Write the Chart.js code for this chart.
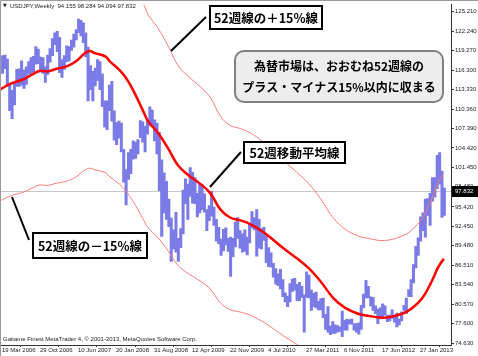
<!DOCTYPE html>
<html><head><meta charset="utf-8">
<script src="https://cdn.jsdelivr.net/npm/chart.js@4.4.0/dist/chart.umd.min.js"></script>
<style>html,body{margin:0;padding:0;background:#fff;}canvas{display:block;}</style>
</head><body>
<canvas id="c" width="478" height="356"></canvas>
<script>
// ---- data ----
const symbolTitle = 'USDJPY,Weekly';
const lastBar = [94.155, 98.284, 94.094, 97.832]; // O H L C of the last weekly bar
const footerText = 'Gaitame Finest MetaTrader 4, \u00a9 2001-2013, MetaQuotes Software Corp.';

// x axis: week index of each date label
const xTickWeeks = [0, 32, 64, 96, 128, 160, 192, 224, 256, 288, 320, 352];
const xTickLabels = ['19 Mar 2006','29 Oct 2006','10 Jun 2007','20 Jan 2008','31 Aug 2008','12 Apr 2009',
  '22 Nov 2009','4 Jul 2010','27 Mar 2011','6 Nov 2011','17 Jun 2012','27 Jan 2013'];
// y axis tick labels (price)
const yTickValues = [74.63, 77.60, 80.57, 83.54, 86.51, 89.48, 92.45, 95.42, 98.48, 101.45,
  104.42, 107.39, 110.36, 113.33, 116.30, 119.27, 122.24, 125.21];

// price range per two-week block (weeks 0-1, 2-3, ...): low / high
const barLow = [115.8,116.5,113.8,110.1,108.9,111.0,113.8,113.8,114.0,113.5,114.1,115.7,115.5,116.0,117.2,117.3,116.0,115.8,114.4,115.6,
  117.5,118.5,120.2,119.1,115.9,115.2,116.4,117.6,117.7,119.3,119.8,120.9,122.0,121.5,120.5,118.3,111.6,113.3,111.6,113.9,
  114.7,113.3,110.7,107.6,107.2,110.1,108.5,105.6,104.9,105.9,103.8,99.2,95.7,99.6,100.5,102.7,102.8,103.5,106.0,105.3,
  103.8,106.5,107.8,107.7,105.5,103.5,97.9,90.9,94.5,93.5,92.4,87.1,89.0,88.5,87.1,89.2,91.3,95.9,93.5,97.0,
  96.0,95.9,93.9,94.5,95.0,94.6,91.8,93.3,94.0,92.6,90.2,89.8,88.0,88.7,89.6,88.6,84.8,87.8,89.3,90.6,
  89.1,88.5,88.6,88.1,89.9,92.2,91.9,87.9,89.1,89.0,90.3,86.9,86.3,86.2,84.7,83.6,83.4,82.9,81.7,80.9,
  80.2,80.9,82.5,82.7,81.1,81.1,81.6,76.3,81.6,81.5,79.6,80.2,80.0,79.7,79.7,78.5,76.7,76.3,75.9,76.1,
  76.1,76.3,76.4,75.6,76.6,76.6,77.5,77.5,76.6,76.3,76.0,76.7,80.0,81.5,81.5,80.3,79.6,79.1,77.6,78.3,
  78.6,78.9,77.9,78.0,78.4,77.8,77.1,77.4,78.0,79.6,79.1,81.7,81.7,83.8,86.1,88.0,90.2,91.8,90.8,94.1,
  92.6,96.3,96.9,98.2,98.9,93.8,94.1];
const barHigh = [118.5,118.6,118.0,114.3,113.2,114.3,116.4,116.5,117.7,116.3,116.8,117.6,118.2,118.4,119.9,119.5,118.3,118.2,116.8,118.6,
  119.6,121.1,122.0,122.2,121.3,117.9,118.5,120.0,119.9,120.9,121.8,122.5,124.1,123.9,123.5,122.0,119.8,117.0,116.1,116.6,
  117.9,117.6,115.7,111.6,111.6,114.0,114.6,110.1,108.3,108.5,108.2,104.2,101.1,103.7,104.2,105.5,105.3,105.7,108.6,108.4,
  107.7,108.6,110.7,110.2,108.7,108.2,106.8,102.6,100.6,99.3,96.6,93.7,91.9,94.6,90.6,92.1,98.0,99.7,98.9,101.4,
  100.7,99.9,97.5,98.9,98.9,97.4,95.0,95.6,97.8,95.4,93.5,92.3,90.5,92.0,92.2,90.6,90.8,90.6,93.1,93.8,
  91.8,91.3,91.9,90.8,92.8,94.7,93.8,95.0,93.5,92.1,92.3,91.3,89.2,88.4,86.8,86.0,85.2,85.9,84.3,82.3,
  81.8,83.7,84.4,84.5,83.6,83.9,83.3,82.0,85.5,85.0,82.7,82.2,82.4,81.0,81.4,81.5,79.0,80.2,77.2,77.9,
  77.4,77.3,77.1,79.5,78.1,78.3,78.2,78.3,77.6,77.6,77.7,80.4,82.1,84.2,83.3,81.7,81.6,80.3,79.8,80.0,
  80.6,80.3,78.9,78.9,79.7,78.8,79.2,78.3,79.4,80.4,81.5,82.8,84.3,86.6,89.4,90.7,93.9,94.5,96.6,96.7,
  97.5,99.9,99.9,103.3,103.7,100.9,98.3];

// 52-week moving average and its +15% / -15% envelopes (read at these week indices)
const maWeeks = [-2,7,18,26,32,38,46,55,62,70,74,78,87,91,99,104,110,119,123,131,140,148,156,165,175,184,192,200,209,219,
  227,237,248,258,268,279,289,300,308,322,337,345,354,362,367,372];
const maValues = [113.3,114.2,114.9,115.7,116.2,116.1,116.5,116.9,117.6,118.9,119.2,118.9,118.4,117.6,116.3,115.2,113.4,110.0,108.5,106.8,
  104.3,101.8,100.4,99.2,97.6,95.0,93.8,93.4,92.8,91.7,90.6,89.1,87.6,86.1,84.1,81.5,80.0,79.1,78.8,78.5,79.1,79.9,81.5,84.1,86.1,87.5];
const upperValues = [130.30,131.33,132.14,133.06,133.63,133.52,133.98,134.44,135.24,136.74,137.08,136.74,136.16,135.24,133.75,132.48,130.41,126.50,124.78,122.82,
  119.95,117.07,115.46,114.08,112.24,109.25,107.87,107.41,106.72,105.46,104.19,102.47,100.74,99.02,96.72,93.73,92.00,90.97,90.62,90.28,90.97,91.89,93.73,96.72,99.02,100.63];
const lowerValues = [96.31,97.07,97.67,98.35,98.77,98.69,99.03,99.37,99.96,101.07,101.32,101.07,100.64,99.96,98.86,97.92,96.39,93.50,92.23,90.78,
  88.66,86.53,85.34,84.32,82.96,80.75,79.73,79.39,78.88,77.95,77.01,75.74,74.46,73.19,71.49,69.28,68.00,67.24,66.98,66.73,67.24,67.92,69.28,71.49,73.19,74.38];

const noteUpper = '52週線の＋15%線';
const noteMA = '52週移動平均線';
const noteLower = '52週線の－15%線';
const noteMain = ['為替市場は、おおむね52週線の', 'プラス・マイナス15%以内に収まる'];

// ---- build datasets ----
const bars = barLow.map((lo, k) => ({ x: 2 * k + 0.5, y: [lo, barHigh[k]] }));
const pts = vals => maWeeks.map((w, k) => ({ x: w, y: vals[k] }));

const decor = {
  id: 'decor',
  beforeDatasetsDraw(chart) {
    const { ctx, chartArea: a, scales: { y } } = chart;
    const py = Math.round(y.getPixelForValue(lastBar[3])) + 0.5;
    ctx.save();
    ctx.strokeStyle = '#c8c8c8';
    ctx.lineWidth = 1;
    ctx.beginPath(); ctx.moveTo(a.left, py); ctx.lineTo(a.right, py); ctx.stroke();
    ctx.restore();
  },
  afterDraw(chart) {
    const { ctx, chartArea: a, scales: { y } } = chart;
    ctx.save();
    // frame
    ctx.strokeStyle = '#9a9a9a'; ctx.lineWidth = 1;
    ctx.beginPath(); ctx.moveTo(0.5, 356); ctx.lineTo(0.5, 0.5); ctx.lineTo(478, 0.5); ctx.stroke();
    // current price label
    const py = Math.round(y.getPixelForValue(lastBar[3]));
    ctx.fillStyle = '#000';
    ctx.fillRect(a.right + 1, py - 5, 26, 11);
    ctx.fillStyle = '#fff';
    ctx.font = '6px "Liberation Sans"';
    ctx.textBaseline = 'middle'; ctx.textAlign = 'left';
    ctx.fillText(lastBar[3].toFixed(3), a.right + 4, py + 0.5);
    // title
    ctx.fillStyle = '#222';
    ctx.font = '5px "DejaVu Sans"';
    ctx.fillText('\u25bc', 3, 6);
    ctx.font = '6px "Liberation Sans"';
    ctx.fillText(symbolTitle + '  ' + lastBar.map(v => v.toFixed(3)).join(' '), 10, 6);
    // footer
    ctx.fillText(footerText, 3, 339);
    // leader lines
    ctx.strokeStyle = '#000'; ctx.lineWidth = 2;
    const line = (x1, y1, x2, y2) => { ctx.beginPath(); ctx.moveTo(x1, y1); ctx.lineTo(x2, y2); ctx.stroke(); };
    line(206, 17, 171, 51);
    line(241, 152, 210, 187);
    line(12, 197, 29, 240);
    // boxes
    const box = (x, yy, w, h, text) => {
      ctx.fillStyle = '#fff'; ctx.fillRect(x, yy, w, h);
      ctx.strokeStyle = '#000'; ctx.lineWidth = 2; ctx.strokeRect(x, yy, w, h);
      ctx.fillStyle = '#000'; ctx.font = 'bold 12.5px "Noto Sans CJK JP"';
      ctx.textAlign = 'center'; ctx.textBaseline = 'middle';
      ctx.fillText(text, x + w / 2, yy + h / 2 + 1);
    };
    box(210, 6, 112, 23, noteUpper);
    box(244, 142, 101, 21, noteMA);
    box(33, 233, 114, 25, noteLower);
    // rounded note
    ctx.beginPath(); ctx.roundRect(235, 51, 208, 51, 9);
    ctx.fillStyle = '#ededed'; ctx.fill();
    ctx.strokeStyle = '#808080'; ctx.lineWidth = 2; ctx.stroke();
    ctx.fillStyle = '#000'; ctx.font = 'bold 12px "Noto Sans CJK JP"';
    ctx.textAlign = 'center'; ctx.textBaseline = 'middle';
    ctx.fillText(noteMain[0], 339, 66);
    ctx.fillText(noteMain[1], 339, 87);
    ctx.restore();
  }
};

new Chart(document.getElementById('c'), {
  type: 'bar',
  data: {
    datasets: [
      { type: 'line', data: pts(maValues), borderColor: '#ff0000', borderWidth: 2.5, pointRadius: 0, tension: 0.4, order: 1 },
      { type: 'line', data: pts(upperValues), borderColor: '#ff7a7a', borderWidth: 1, pointRadius: 0, tension: 0.4, order: 2 },
      { type: 'line', data: pts(lowerValues), borderColor: '#ff7a7a', borderWidth: 1, pointRadius: 0, tension: 0.4, order: 2 },
      { type: 'bar', data: bars, backgroundColor: '#7b7be8', borderWidth: 0, barPercentage: 1, categoryPercentage: 1, order: 10 }
    ]
  },
  options: {
    responsive: false,
    animation: false,
    devicePixelRatio: 1,
    layout: { padding: { left: 1, top: 2, right: 0, bottom: 0 } },
    plugins: { legend: { display: false }, tooltip: { enabled: false }, title: { display: false } },
    scales: {
      x: {
        type: 'linear', min: -0.84, max: 378.1, offset: false,
        afterBuildTicks: s => { s.ticks = xTickWeeks.map(v => ({ value: v })); },
        afterFit: s => { s.height = 11; },
        ticks: { autoSkip: false, maxRotation: 0, align: 'start', padding: 0, color: '#222',
          font: { family: 'Liberation Sans', size: 6 },
          callback: v => xTickLabels[xTickWeeks.indexOf(v)] },
        grid: { drawOnChartArea: false, drawTicks: true, tickLength: 2, color: '#333' },
        border: { display: true, color: '#333', width: 1 }
      },
      y: {
        type: 'linear', position: 'right', min: 74.33, max: 126.30,
        afterBuildTicks: s => { s.ticks = yTickValues.map(v => ({ value: v })); },
        afterFit: s => { s.width = 27; },
        ticks: { padding: 1, color: '#222', font: { family: 'Liberation Sans', size: 6 },
          callback: v => v.toFixed(3) },
        grid: { drawOnChartArea: false, drawTicks: true, tickLength: 3, color: '#333' },
        border: { display: true, color: '#333', width: 1 }
      }
    }
  },
  plugins: [decor]
});
</script>
</body></html>
